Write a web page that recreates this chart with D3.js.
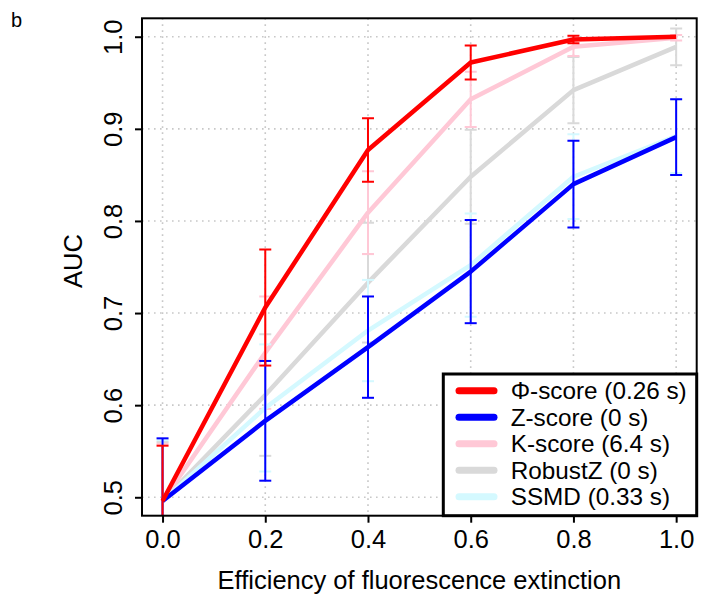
<!DOCTYPE html>
<html><head><meta charset="utf-8">
<script src="https://cdn.jsdelivr.net/npm/d3@7"></script>
<style>body{margin:0;background:#fff}text{font-family:"Liberation Sans",Arial,sans-serif}</style>
</head><body>
<svg id="c" width="710" height="600"></svg>
<script>
const xValues = [0.0, 0.2, 0.4, 0.6, 0.8, 1.0];
const xTicks = [0.0, 0.2, 0.4, 0.6, 0.8, 1.0];
const yTicks = [0.5, 0.6, 0.7, 0.8, 0.9, 1.0];
const seriesNames = ["\u03A6-score (0.26 s)", "Z-score (0 s)", "K-score (6.4 s)", "RobustZ (0 s)", "SSMD (0.33 s)"];
const seriesColors = ["#ff0000", "#0000ff", "#ffc8d6", "#d9d9d9", "#d4f9ff"];
const phiMean = [0.496, 0.706, 0.877, 0.972, 0.997, 1.000];
const phiErr  = [0.060, 0.063, 0.0345, 0.0185, 0.004, 0.0];
const zMean   = [0.496, 0.583, 0.663, 0.745, 0.840, 0.891];
const zErr    = [0.068, 0.065, 0.055, 0.056, 0.047, 0.041];
const kMean   = [0.496, 0.657, 0.809, 0.932, 0.989, 0.999];
const kErr    = [0.062, 0.061, 0.045, 0.030, 0.010, 0.003];
const rzMean  = [0.496, 0.611, 0.733, 0.848, 0.942, 0.989];
const rzErr   = [0.064, 0.066, 0.065, 0.051, 0.036, 0.020];
const ssmdMean= [0.496, 0.597, 0.681, 0.752, 0.848, 0.892];
const ssmdErr = [0.066, 0.069, 0.055, 0.056, 0.046, 0.040];

const series = [
  {name: seriesNames[0], color: seriesColors[0], mean: phiMean, err: phiErr},
  {name: seriesNames[1], color: seriesColors[1], mean: zMean, err: zErr},
  {name: seriesNames[2], color: seriesColors[2], mean: kMean, err: kErr},
  {name: seriesNames[3], color: seriesColors[3], mean: rzMean, err: rzErr},
  {name: seriesNames[4], color: seriesColors[4], mean: ssmdMean, err: ssmdErr}
];
const drawOrder = [3, 2, 4, 1, 0];

const svg = d3.select("#c");
const L = 142, R = 696.7, T = 18.3, B = 515.7;
const x = d3.scaleLinear().domain([-0.04, 1.04]).range([L, R]);
const y = d3.scaleLinear().domain([0.48, 1.02]).range([B, T]);
const FS = 25.5;
const LFS = 24.3;

svg.append("defs").append("clipPath").attr("id", "pc")
  .append("rect").attr("x", L).attr("y", T).attr("width", R - L).attr("height", B - T);

// grid
const grid = svg.append("g").attr("stroke", "#c8c8c8").attr("stroke-width", 1.6).attr("stroke-dasharray", "1.6,4.4");
grid.selectAll("line.vx").data(xTicks).join("line")
  .attr("x1", d => x(d)).attr("x2", d => x(d)).attr("y1", T).attr("y2", B);
grid.selectAll("line.hy").data(yTicks).join("line")
  .attr("y1", d => y(d)).attr("y2", d => y(d)).attr("x1", L).attr("x2", R);

// series
const plot = svg.append("g").attr("clip-path", "url(#pc)");
const line = d3.line().x((d, i) => x(xValues[i])).y(d => y(d));
drawOrder.forEach(si => {
  const s = series[si];
  const g = plot.append("g");
  g.append("path").attr("d", line(s.mean)).attr("fill", "none")
    .attr("stroke", s.color).attr("stroke-width", 4.5).attr("stroke-linejoin", "round");
  const eb = g.append("g").attr("stroke", s.color).attr("stroke-width", 2);
  s.mean.forEach((m, i) => {
    const e = s.err[i];
    if (e <= 0) return;
    const cx = x(xValues[i]);
    eb.append("line").attr("x1", cx).attr("x2", cx).attr("y1", y(m - e)).attr("y2", y(m + e));
    eb.append("line").attr("x1", cx - 6).attr("x2", cx + 6).attr("y1", y(m + e)).attr("y2", y(m + e));
    eb.append("line").attr("x1", cx - 6).attr("x2", cx + 6).attr("y1", y(m - e)).attr("y2", y(m - e));
  });
});

// box
svg.append("rect").attr("x", L).attr("y", T).attr("width", R - L).attr("height", B - T)
  .attr("fill", "none").attr("stroke", "#000").attr("stroke-width", 2);

// axes
const xAxis = svg.append("g").attr("transform", `translate(0,${B})`)
  .call(d3.axisBottom(x).tickValues(xTicks).tickFormat(d3.format(".1f")).tickSize(7).tickPadding(7));
xAxis.select(".domain").remove();
xAxis.selectAll("line").attr("stroke-width", 2);
xAxis.selectAll("text").attr("font-size", FS).attr("fill", "#000").attr("font-family", null);

const yAxis = svg.append("g").attr("transform", `translate(${L},0)`)
  .call(d3.axisLeft(y).tickValues(yTicks).tickFormat(d3.format(".1f")).tickSize(7));
yAxis.select(".domain").remove();
yAxis.selectAll("line").attr("stroke-width", 2);
yAxis.selectAll("text").attr("font-size", FS).attr("fill", "#000").attr("font-family", null)
  .attr("x", null).attr("dy", null)
  .attr("transform", "translate(-20,0) rotate(-90)")
  .attr("text-anchor", "middle");

// titles
svg.append("text").attr("x", (L + R) / 2).attr("y", 589).attr("text-anchor", "middle")
  .attr("font-size", FS).text("Efficiency of fluorescence extinction");
svg.append("text").attr("transform", `translate(82,${(T + B) / 2 - 6}) rotate(-90)`).attr("text-anchor", "middle")
  .attr("font-size", FS).text("AUC");
svg.append("text").attr("x", 11).attr("y", 27).attr("font-size", 20).text("b");

// legend
const lg = svg.append("g");
lg.append("rect").attr("x", 443.3).attr("y", 374).attr("width", R - 443.3).attr("height", B - 374)
  .attr("fill", "#fff").attr("stroke", "#000").attr("stroke-width", 3);
const rowY = d3.scaleLinear().domain([0, 4]).range([390.7, 496.7]);
series.forEach((s, i) => {
  lg.append("line").attr("x1", 459).attr("x2", 494).attr("y1", rowY(i)).attr("y2", rowY(i))
    .attr("stroke", s.color).attr("stroke-width", 7).attr("stroke-linecap", "round");
  lg.append("text").attr("x", 510.7).attr("y", rowY(i)).attr("dy", "0.36em")
    .attr("font-size", LFS).text(s.name);
});
</script>
</body></html>
